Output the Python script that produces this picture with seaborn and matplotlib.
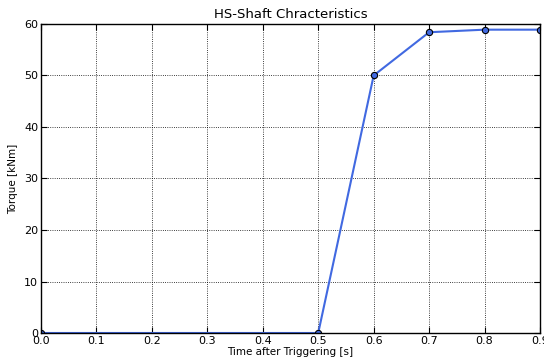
import matplotlib
matplotlib.use("Agg")
import matplotlib.pyplot as plt
import seaborn as sns
import pandas as pd

time_s = [0.0, 0.5, 0.6, 0.7, 0.8, 0.9]
torque_knm = [0.0, 0.0, 50.0, 58.4, 58.9, 58.9]
x_ticks = [0.0, 0.1, 0.2, 0.3, 0.4, 0.5, 0.6, 0.7, 0.8, 0.9]
y_ticks = [0, 10, 20, 30, 40, 50, 60]

sns.set_theme(style="white")
plt.rcParams['font.family'] = ['DejaVu Sans']
plt.rcParams['xtick.direction'] = 'in'
plt.rcParams['ytick.direction'] = 'in'
plt.rcParams['text.color'] = 'black'
plt.rcParams['axes.labelcolor'] = 'black'
plt.rcParams['xtick.color'] = 'black'
plt.rcParams['ytick.color'] = 'black'

df = pd.DataFrame({"t": time_s, "T": torque_knm})

fig = plt.figure(figsize=(5.44, 3.61), dpi=100)
ax = fig.add_axes([41/544, 1-333/361, (540-41)/544, (333-24)/361])
sns.lineplot(data=df, x="t", y="T", ax=ax, color="#4169E1", linewidth=1.5,
             marker="o", markersize=4.5, markeredgecolor="black",
             markeredgewidth=0.8, clip_on=True)
ax.set_xlim(0, 0.9)
ax.set_ylim(0, 60)
ax.set_xticks(x_ticks)
ax.set_yticks(y_ticks)
ax.set_xticklabels([f"{v:.1f}" for v in x_ticks])
ax.set_yticklabels([str(v) for v in y_ticks])
ax.tick_params(axis='both', labelsize=8, length=4, width=0.8, color='black',
               labelcolor='black', pad=2, top=True, right=True, bottom=True, left=True)
ax.grid(True, color='black', linestyle=':', linewidth=0.6)
for s in ax.spines.values():
    s.set_color('black')
    s.set_linewidth(1.0)
ax.set_xlabel("Time after Triggering [s]", fontsize=7.5, labelpad=1, color='black')
ax.set_ylabel("Torque [kNm]", fontsize=7.5, labelpad=4, color='black')
ax.set_title("HS-Shaft Chracteristics", fontsize=9.5, pad=4, color='black')
fig.savefig("out.png", dpi=100)
